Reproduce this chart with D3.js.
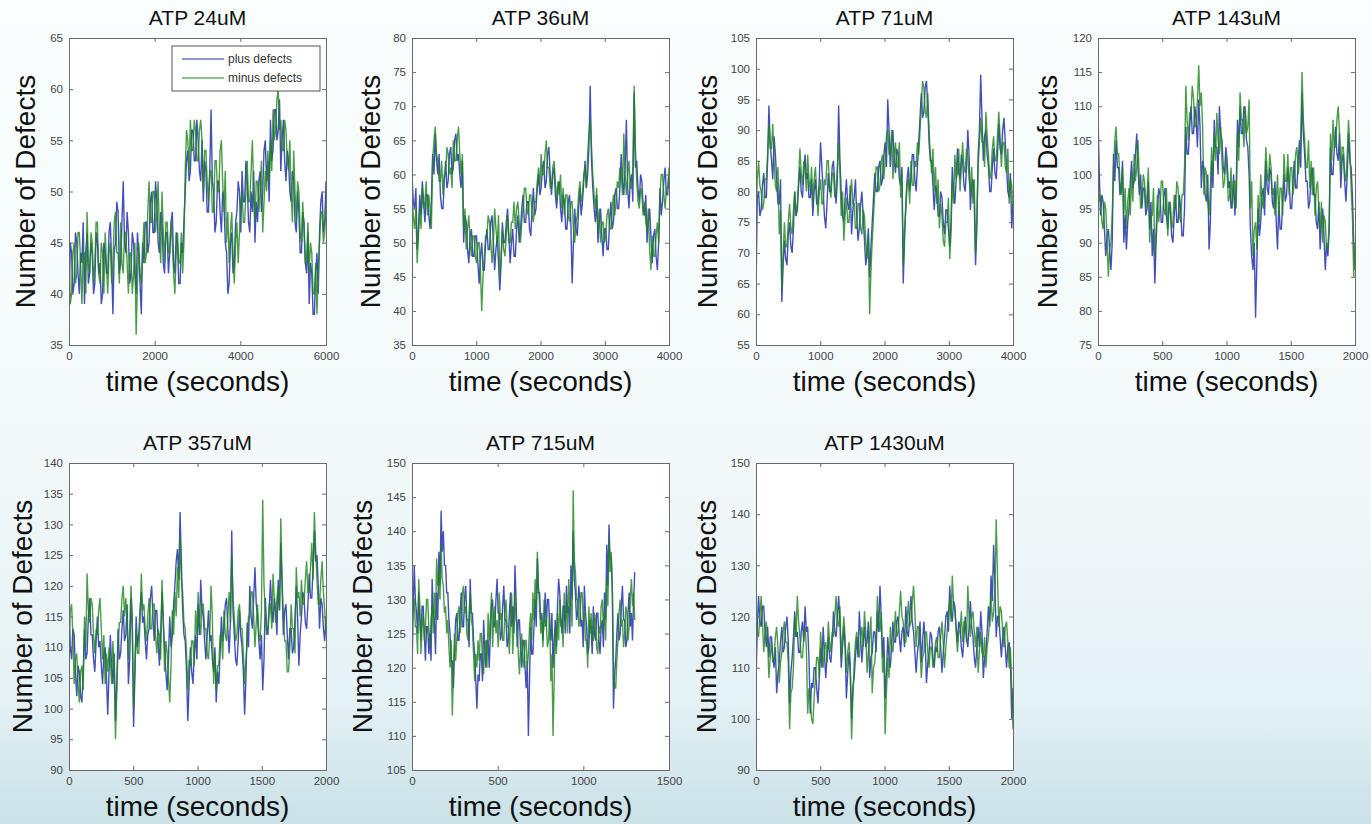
<!DOCTYPE html>
<html>
<head>
<meta charset="utf-8">
<script src="https://cdn.jsdelivr.net/npm/d3@7/dist/d3.min.js"></script>
<style>
  html, body { margin: 0; padding: 0; }
  body { width: 1371px; height: 824px; overflow: hidden; }
  text { font-family: "Liberation Sans", Arial, sans-serif; }
</style>
</head>
<body>
<div id="chart"></div>
<script>
// panel titles and axes
const titles = ["ATP 24uM", "ATP 36uM", "ATP 71uM", "ATP 143uM", "ATP 357uM", "ATP 715uM", "ATP 1430uM"];
const timeSpan = [6000, 4000, 4000, 2000, 2000, 1300, 2000];
const xMax = [6000, 4000, 4000, 2000, 2000, 1500, 2000];
const yMin = [35, 35, 55, 75, 90, 105, 90];
const yMax = [65, 80, 105, 120, 140, 150, 150];
const xTicks = [
  [0, 2000, 4000, 6000],
  [0, 1000, 2000, 3000, 4000],
  [0, 1000, 2000, 3000, 4000],
  [0, 500, 1000, 1500, 2000],
  [0, 500, 1000, 1500, 2000],
  [0, 500, 1000, 1500],
  [0, 500, 1000, 1500, 2000]
];
const yStep = [5, 5, 5, 5, 5, 5, 10];
const seriesNames = ["plus defects", "minus defects"];

// plus defects (blue) / minus defects (green)
const plus24 = [38,45,44,40,41,46,45,42,40,44,43,47,39,44,46,41,42,45,44,40,41,46,45,42,43,39,40,45,44,42,
  42,46,47,43,38,44,45,49,48,42,43,47,51,45,44,48,46,41,42,46,
  45,42,40,46,44,41,38,45,43,47,47,44,45,49,50,46,46,51,49,45,
  44,48,47,43,42,46,46,42,44,47,48,43,42,46,45,41,41,45,44,47,
  50,53,54,51,52,56,56,53,53,57,55,52,51,55,
  49,53,52,48,48,52,58,51,50,46,47,51,51,48,46,50,49,45,
  44,40,41,45,46,42,43,47,48,51,50,46,52,49,
  49,53,51,47,46,50,48,52,45,49,47,51,52,48,50,54,55,51,53,49,
  57,53,54,58,58,55,56,59,52,55,57,53,51,54,
  53,50,49,52,51,47,46,50,48,44,44,48,47,43,42,46,
  39,43,42,38,38,42,44,40,46,49,50,46,47,51];
const minus24 = [43,39,40,44,45,41,42,46,46,43,39,44,44,40,48,43,42,46,45,41,43,47,47,42,41,45,44,40,46,43,
  40,44,45,41,43,47,48,44,44,41,47,43,42,46,46,43,40,44,44,40,
  42,45,36,41,45,42,41,44,47,43,44,48,51,47,47,50,50,46,48,51,
  46,43,50,46,43,47,47,44,44,47,45,42,40,44,46,43,43,46,42,45,
  52,56,55,52,57,54,54,57,56,53,53,56,57,55,
  50,54,54,51,49,52,52,48,48,53,53,50,50,54,55,51,48,52,
  45,48,43,46,48,44,41,45,47,43,46,49,50,47,
  47,50,53,49,49,52,55,50,47,51,51,48,50,53,46,49,52,50,54,51,
  55,52,58,55,56,59,60,56,57,54,54,57,56,53,
  52,55,50,47,54,50,47,51,50,46,45,49,46,43,43,47,
  42,45,44,40,40,43,38,42,45,48,48,45,46,49];

const plus36 = [60,56,55,58,49,52,57,54,59,56,53,57,57,54,52,56,63,60,66,62,
  60,63,57,55,55,59,62,58,59,63,64,60,61,65,66,62,63,60,58,62,
  50,54,53,49,47,51,52,48,48,51,51,47,44,48,50,46,46,50,52,49,
  49,53,54,50,46,49,51,47,43,47,53,50,50,53,55,51,47,50,52,48,
  48,52,54,50,52,55,57,53,53,56,56,52,51,55,58,54,55,58,60,57,
  58,61,62,58,59,63,64,60,57,60,61,57,55,58,59,55,53,57,56,52,
  52,56,57,53,44,50,55,52,51,55,58,54,56,59,62,58,60,64,73,62,
  58,55,53,57,50,53,55,51,48,52,52,49,49,53,56,52,53,57,58,55,
  55,58,63,59,57,61,68,58,55,59,60,56,72,61,62,58,56,60,59,55,
  54,57,50,53,55,51,47,51,52,48,46,50,58,54,56,59,61,57,57,60];
const minus36 = [57,54,52,55,47,51,55,52,58,55,56,59,54,57,55,52,62,65,67,63,
  62,59,59,62,57,60,60,64,63,60,61,58,65,62,62,65,67,63,60,63,
  52,55,49,52,54,50,48,51,51,48,47,50,50,46,40,45,48,51,51,54,
  53,50,47,50,55,52,50,54,45,48,52,49,48,51,54,50,50,53,53,56,
  52,55,56,53,50,53,55,58,58,55,54,57,57,54,53,56,56,59,61,58,
  63,60,60,63,65,61,61,58,58,61,62,59,56,59,57,60,55,58,54,57,
  57,54,53,56,56,52,50,53,54,57,59,56,57,60,61,58,63,66,68,64,
  60,57,55,58,52,55,50,53,53,50,51,54,55,52,52,55,57,54,56,59,
  58,61,60,57,66,60,57,60,62,58,58,61,73,64,59,56,55,58,57,54,
  56,53,52,55,49,46,51,48,48,51,53,50,57,60,60,57,55,58,58,61];

const plus71 = [64,79,80,76,77,81,83,79,79,85,94,88,85,82,89,86,82,78,78,82,
  62,68,72,69,68,73,75,71,70,74,80,76,77,81,84,80,79,83,86,82,
  83,79,79,82,76,80,82,78,78,82,88,84,80,76,74,78,83,80,80,84,
  85,81,78,82,94,85,80,76,75,79,82,78,77,81,73,77,79,82,76,72,
  74,78,80,76,72,68,70,74,66,71,75,79,83,80,80,84,85,81,82,86,
  88,84,95,90,84,88,90,85,83,87,86,82,81,84,65,72,78,82,84,80,
  82,86,86,82,80,84,88,92,96,92,93,97,98,94,88,85,85,81,77,81,
  80,76,76,80,79,75,73,77,77,74,71,75,84,80,78,82,87,83,82,86,
  85,81,80,84,90,86,77,81,82,78,68,74,86,90,99,92,85,89,90,86,
  84,80,80,84,87,83,82,86,91,87,86,90,92,88,84,80,79,83,74,78];
const minus71 = [76,82,85,81,80,77,78,82,82,86,91,87,87,91,85,81,80,84,73,77,
  64,70,75,71,71,75,78,74,73,77,80,76,78,82,87,83,81,85,84,80,
  86,82,80,84,78,82,84,80,76,80,82,78,78,82,81,85,85,81,79,83,
  83,79,80,84,88,83,76,80,72,76,79,75,75,79,82,78,78,74,74,78,
  78,74,73,77,76,72,69,73,60,67,72,76,80,84,84,80,81,85,86,82,
  85,89,90,86,86,90,82,86,88,84,84,88,79,83,68,74,77,81,82,78,
  85,81,81,85,84,88,86,90,94,98,97,93,92,96,90,86,83,87,80,84,
  78,82,74,78,76,72,71,75,75,79,69,73,82,78,86,82,83,87,80,84,
  88,84,83,87,86,82,80,84,78,82,70,76,84,88,92,88,88,84,93,89,
  86,82,83,87,89,85,85,89,93,89,84,88,88,84,83,87,78,82,81,77];

const plus143 = [109,100,94,97,96,92,88,91,92,89,86,90,103,99,105,101,101,97,98,102,
  90,94,89,93,95,99,102,98,99,103,106,101,97,100,95,98,98,94,95,99,
  92,96,88,92,84,90,95,98,97,93,93,97,98,94,92,96,95,91,90,94,
  97,93,93,97,95,91,91,95,107,103,103,107,110,106,106,110,108,104,111,107,
  98,102,101,97,96,100,89,93,102,98,108,104,104,100,110,106,105,101,100,104,
  102,98,99,95,96,100,94,98,108,104,110,106,106,110,109,105,104,100,92,88,
  86,90,79,87,95,91,93,97,98,94,102,98,97,101,100,96,95,99,93,89,
  96,92,92,96,100,96,97,101,99,95,95,99,102,98,98,102,105,101,112,106,
  103,99,99,95,96,100,101,97,97,93,92,96,89,93,95,91,86,90,88,92,
  104,100,100,104,107,103,102,106,98,102,103,99,96,100,106,102,101,97,90,86];
const minus143 = [100,96,97,93,92,96,95,91,85,89,90,94,101,105,107,103,103,99,97,101,
  94,98,92,96,98,94,100,96,103,99,101,105,99,95,96,100,99,95,97,101,
  90,94,94,98,88,92,97,93,95,99,99,95,94,98,91,95,96,92,93,97,
  95,99,98,94,93,97,97,101,113,108,105,109,109,113,111,107,107,111,116,110,
  112,107,97,101,100,96,94,98,104,100,106,102,109,105,103,107,102,98,99,103,
  100,96,97,101,95,99,99,95,106,102,112,108,108,104,110,106,107,111,95,99,
  88,92,93,89,97,93,100,96,95,99,104,100,99,103,101,97,98,94,96,100,
  94,98,98,94,103,99,99,103,97,101,101,97,99,103,104,100,102,106,115,108,
  105,101,101,105,98,102,97,101,94,98,99,95,92,96,90,94,93,89,89,93,
  106,102,108,104,104,108,110,106,100,104,104,100,99,103,108,104,98,94,85,90];

const plus357 = [118,110,108,113,112,106,102,107,106,102,101,106,113,108,109,115,118,112,112,108,
  106,111,115,110,111,107,104,109,110,105,99,106,112,107,104,109,98,104,113,108,
  109,113,116,111,112,117,104,108,118,113,97,105,115,110,112,116,119,114,115,111,
  108,112,113,118,120,115,111,116,116,111,107,112,119,114,110,106,103,108,115,110,
  112,117,120,124,126,121,132,124,116,112,111,106,98,104,110,106,104,109,112,108,
  117,112,121,116,115,111,108,112,116,111,112,108,106,110,101,106,104,109,115,111,
  113,117,118,113,109,114,129,116,112,108,107,111,116,112,110,106,99,105,114,110,
  120,115,113,118,123,117,115,111,108,112,103,108,118,113,112,116,121,116,114,118,
  116,112,121,116,127,120,112,116,117,112,108,113,113,109,110,115,120,115,107,112,
  115,119,118,114,113,117,122,118,118,123,129,124,125,120,113,118,117,113,111,115];
const minus357 = [112,116,117,112,104,108,109,104,101,106,107,103,115,110,122,116,114,118,117,112,
  109,113,112,116,118,113,108,112,104,109,106,110,108,104,111,106,95,103,110,114,
  114,118,120,115,118,114,108,113,120,115,100,107,113,109,109,114,122,116,117,113,
  111,115,118,113,113,117,117,112,109,113,112,108,121,115,106,111,109,105,101,107,
  116,112,119,115,123,118,128,121,119,114,113,109,103,108,107,111,111,107,116,112,
  119,114,112,117,117,113,113,109,108,112,120,115,104,109,103,107,107,112,112,108,
  116,112,111,115,119,114,125,118,115,111,112,116,117,113,113,109,104,108,111,115,
  115,119,119,115,110,114,117,112,111,116,134,120,116,112,113,117,117,113,122,118,
  114,118,120,116,131,121,115,111,111,106,106,110,117,113,113,109,123,118,119,115,
  121,117,117,121,124,119,119,123,127,121,132,126,121,117,117,121,124,119,116,112];

const plus715 = [119,128,135,130,128,125,131,127,124,129,129,125,121,126,126,122,125,121,133,128,
  127,122,131,127,137,132,143,137,140,135,135,131,131,127,125,121,121,117,123,127,
  128,124,124,128,131,126,126,130,132,127,127,123,133,128,128,124,122,118,114,119,
  118,122,122,118,127,123,120,124,124,120,125,129,130,126,126,130,133,128,128,124,
  125,129,132,127,127,123,124,128,131,126,129,125,135,130,123,127,127,123,120,124,
  124,120,117,121,110,118,126,122,122,126,130,126,136,131,131,127,128,124,127,131,
  126,130,130,126,124,128,120,124,127,123,129,133,131,127,125,129,129,125,132,128,
  129,125,135,130,140,133,131,127,128,132,130,126,127,123,132,128,126,122,123,127,
  126,122,129,125,124,128,128,124,122,126,127,123,131,127,138,132,141,136,136,131,
  114,119,121,125,128,124,125,129,132,127,127,123,124,128,131,126,128,124,130,134];
const minus715 = [125,130,130,126,126,122,133,129,122,126,128,124,126,130,130,126,123,127,129,125,
  131,127,136,132,134,130,138,133,132,128,129,125,127,123,120,124,113,119,125,121,
  124,128,129,125,127,131,132,128,129,125,124,128,131,127,126,122,118,122,120,124,
  121,125,125,121,119,123,124,120,128,124,127,131,123,127,129,125,127,123,131,127,
  128,124,124,128,130,126,126,122,127,131,122,126,131,127,126,122,119,123,125,121,
  120,124,124,120,122,126,128,124,131,127,133,129,137,132,129,125,127,123,130,126,
  127,123,124,128,118,122,110,118,126,122,128,124,130,126,127,123,131,127,129,125,
  133,129,130,126,146,136,134,130,130,126,127,131,131,127,128,124,124,120,129,125,
  128,124,124,128,127,123,122,126,125,129,130,126,128,124,133,129,139,134,137,132,
  121,117,117,121,124,128,130,126,127,123,125,129,128,124,126,130,133,129,131,127];

const plus1430 = [107,118,124,119,118,122,122,117,114,118,112,116,116,112,110,114,105,109,111,115,
  118,113,114,118,120,115,103,109,112,116,121,116,117,113,113,117,119,115,122,117,
  118,112,101,107,106,110,110,106,103,108,114,110,118,113,108,112,116,112,111,115,
  121,117,116,120,124,119,110,114,118,114,104,109,113,109,100,106,108,112,116,112,
  121,116,111,115,118,114,115,119,108,112,113,117,117,113,121,117,126,120,112,116,
  104,109,116,112,110,114,119,115,115,119,120,116,113,117,118,114,122,117,116,120,
  124,119,117,113,109,113,115,119,111,115,119,115,107,111,113,117,116,112,110,114,
  113,117,118,114,109,113,116,120,121,117,126,121,119,123,122,118,115,119,118,114,
  112,116,120,116,114,118,123,118,116,112,110,114,118,114,121,117,108,112,113,117,
  122,118,128,123,134,126,116,120,120,116,112,116,118,114,110,114,115,111,100,106];
const minus1430 = [121,117,116,120,124,119,113,117,119,115,108,112,115,111,112,116,118,114,107,111,
  113,117,119,115,115,111,98,105,106,110,120,116,124,119,116,112,112,116,118,114,
  101,106,104,100,99,104,108,112,112,108,117,113,110,114,115,111,119,115,113,117,
  116,120,124,119,118,122,112,116,120,116,109,113,115,111,96,104,111,115,117,113,
  112,116,118,114,121,117,109,113,116,120,105,110,111,115,124,119,117,121,109,113,
  97,105,112,108,118,114,113,117,121,116,117,121,125,120,119,115,115,119,123,118,
  119,123,126,121,114,118,118,114,108,112,113,117,117,113,110,114,114,110,111,115,
  116,112,112,116,119,115,110,114,117,121,123,119,128,122,121,117,113,117,117,121,
  115,119,119,115,126,120,116,120,121,117,114,118,109,113,117,113,112,116,110,114,
  116,120,124,119,121,125,139,128,118,122,121,117,114,118,119,115,110,114,106,98];

const plusSeries = [plus24, plus36, plus71, plus143, plus357, plus715, plus1430];
const minusSeries = [minus24, minus36, minus71, minus143, minus357, minus715, minus1430];

// layout
const W = 1371, H = 824;
const panelLeft = [69, 412, 756, 1098, 69, 412, 756];
const panelTop = [38, 38, 38, 38, 463, 463, 463];
const panelW = 257, panelH = 307;
const yLabelOffset = [44, 42, 49, 51, 47, 50, 50];
const blue = "#2231ae", green = "#1b851b";

const svg = d3.select("#chart").append("svg")
  .attr("width", W).attr("height", H);

const grad = svg.append("defs").append("linearGradient")
  .attr("id", "bg").attr("x1", 0).attr("y1", 0).attr("x2", 0).attr("y2", 1);
grad.append("stop").attr("offset", "0%").attr("stop-color", "#fafefe");
grad.append("stop").attr("offset", "55%").attr("stop-color", "#f3f9fa");
grad.append("stop").attr("offset", "85%").attr("stop-color", "#e4f1f5");
grad.append("stop").attr("offset", "100%").attr("stop-color", "#c9e1e7");
svg.append("rect").attr("width", W).attr("height", H).attr("fill", "url(#bg)");

titles.forEach(function(title, p) {
  const g = svg.append("g").attr("transform", "translate(" + panelLeft[p] + "," + panelTop[p] + ")");

  const x = d3.scaleLinear().domain([0, xMax[p]]).range([0, panelW]);
  const y = d3.scaleLinear().domain([yMin[p], yMax[p]]).range([panelH, 0]);
  const yTicks = d3.range(yMin[p], yMax[p] + 0.1, yStep[p]);

  g.append("rect").attr("width", panelW).attr("height", panelH).attr("fill", "#fff");

  g.append("clipPath").attr("id", "clip" + p)
    .append("rect").attr("width", panelW).attr("height", panelH);

  const lineFor = function(values) {
    const n = values.length;
    return d3.line()
      .x(function(d, i) { return x(i * timeSpan[p] / (n - 1)); })
      .y(function(d) { return y(d); })(values);
  };

  const lines = g.append("g").attr("clip-path", "url(#clip" + p + ")");
  lines.append("path").attr("d", lineFor(plusSeries[p])).attr("fill", "none")
    .attr("stroke", blue).attr("stroke-width", 1.4).attr("stroke-opacity", 0.85);
  lines.append("path").attr("d", lineFor(minusSeries[p])).attr("fill", "none")
    .attr("stroke", green).attr("stroke-width", 1.4).attr("stroke-opacity", 0.8);

  // axes, MATLAB style: ticks inside on all sides
  const axColor = "#6a6a6a";
  const bottom = g.append("g").attr("transform", "translate(0," + panelH + ")")
    .call(d3.axisBottom(x).tickValues(xTicks[p]).tickSize(-4).tickPadding(7).tickFormat(d3.format("d")));
  const top = g.append("g")
    .call(d3.axisTop(x).tickValues(xTicks[p]).tickSize(-4).tickFormat(""));
  const left = g.append("g")
    .call(d3.axisLeft(y).tickValues(yTicks).tickSize(-4).tickPadding(6).tickFormat(d3.format("d")));
  const right = g.append("g").attr("transform", "translate(" + panelW + ",0)")
    .call(d3.axisRight(y).tickValues(yTicks).tickSize(-4).tickFormat(""));
  [bottom, top, left, right].forEach(function(a) {
    a.select(".domain").attr("stroke", axColor);
    a.selectAll(".tick line").attr("stroke", axColor);
    a.selectAll("text").attr("fill", "#444").attr("font-size", 11.5)
      .attr("font-family", "'Liberation Sans', Arial, sans-serif");
  });

  g.append("text").attr("x", panelW / 2).attr("y", -13)
    .attr("text-anchor", "middle").attr("font-size", 21).attr("fill", "#111")
    .text(title);

  g.append("text").attr("x", panelW / 2).attr("y", panelH + 46)
    .attr("text-anchor", "middle").attr("font-size", 28).attr("fill", "#111")
    .text("time (seconds)");

  g.append("text")
    .attr("transform", "translate(" + (-yLabelOffset[p]) + "," + (panelH / 2) + ") rotate(-90)")
    .attr("text-anchor", "middle").attr("dy", "0.35em")
    .attr("font-size", 28).attr("fill", "#111")
    .text("Number of Defects");

  if (p === 0) {
    const lg = g.append("g").attr("transform", "translate(103,8)");
    lg.append("rect").attr("width", 148).attr("height", 45)
      .attr("fill", "#fff").attr("stroke", "#555");
    [blue, green].forEach(function(c, k) {
      lg.append("line").attr("x1", 10).attr("x2", 52)
        .attr("y1", 13 + k * 19).attr("y2", 13 + k * 19)
        .attr("stroke", c).attr("stroke-width", 1);
      lg.append("text").attr("x", 56).attr("y", 13 + k * 19).attr("dy", "0.35em")
        .attr("font-size", 12).attr("fill", "#333").text(seriesNames[k]);
    });
  }
});
</script>
</body>
</html>
